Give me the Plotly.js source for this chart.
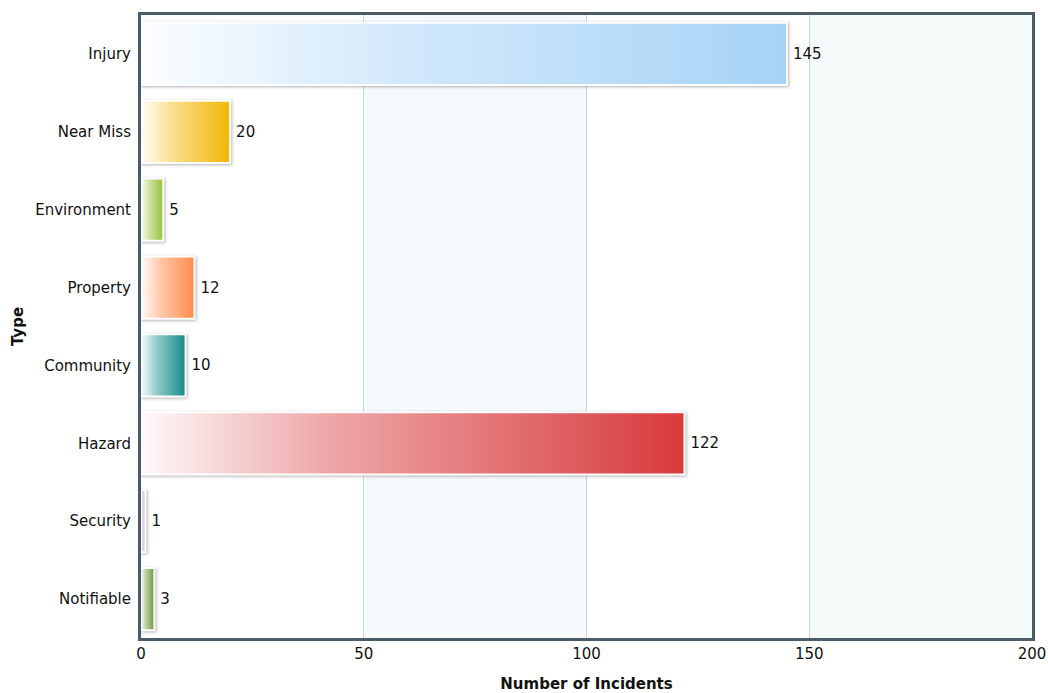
<!DOCTYPE html>
<html>
<head>
<meta charset="utf-8">
<script src="https://cdn.plot.ly/plotly-3.0.1.min.js"></script>
<style>
html,body{margin:0;padding:0;background:#fff;}
#chart{width:1048px;height:693px;}
</style>
</head>
<body>
<div id="chart"></div>
<script>
const categories = ["Injury", "Near Miss", "Environment", "Property", "Community", "Hazard", "Security", "Notifiable"];
const values = [145, 20, 5, 12, 10, 122, 1, 3];
const barColors = ["#a6d3f6", "#f2b705", "#98c23a", "#ff8a48", "#138a8a", "#d83a3c", "#d7a6d6", "#6b9a3c"];
const xTicks = [0, 50, 100, 150, 200];

const font = "DejaVu Sans, Verdana, sans-serif";

const trace = {
  type: "bar",
  orientation: "h",
  y: categories,
  x: values,
  text: values.map(v => "\u2009" + v),
  textposition: "outside",
  textfont: {family: font, size: 15, color: "#111"},
  cliponaxis: false,
  marker: {color: barColors, line: {color: "#ffffff", width: 2}},
  hoverinfo: "x+y"
};

const layout = {
  width: 1048, height: 693,
  margin: {l: 141, r: 16, t: 15, b: 55},
  paper_bgcolor: "#ffffff",
  plot_bgcolor: "#ffffff",
  showlegend: false,
  bargap: 0.2,
  font: {family: font, size: 15, color: "#111"},
  xaxis: {
    range: [0, 200],
    tickvals: xTicks,
    ticktext: xTicks.map(String),
    showgrid: true, gridcolor: "#bfdcdc", gridwidth: 1,
    zeroline: false,
    showline: true, mirror: true, linecolor: "#4a5b69", linewidth: 3,
    ticks: "", ticklen: 0,
    tickfont: {family: font, size: 15, color: "#111"},
    title: {text: "<b>Number of Incidents</b>", font: {family: font, size: 15, color: "#111"}, standoff: 18}
  },
  yaxis: {
    type: "category",
    autorange: "reversed",
    showgrid: false,
    zeroline: false,
    showline: true, mirror: true, linecolor: "#4a5b69", linewidth: 3,
    ticks: "",
    ticklabelstandoff: 4,
    tickfont: {family: font, size: 15, color: "#111"},
    title: {text: "<b>Type</b>", font: {family: font, size: 15, color: "#111"}, standoff: 8}
  },
  shapes: [
    {type: "rect", xref: "x", yref: "paper", x0: xTicks[1], x1: xTicks[2], y0: 0, y1: 1, fillcolor: "#f6fafc", line: {width: 0}, layer: "below"},
    {type: "rect", xref: "x", yref: "paper", x0: xTicks[3], x1: xTicks[4], y0: 0, y1: 1, fillcolor: "#f4f9fa", line: {width: 0}, layer: "below"}
  ]
};

function mix(hex, t) {
  const r = parseInt(hex.slice(1,3),16), g = parseInt(hex.slice(3,5),16), b = parseInt(hex.slice(5,7),16);
  const f = c => Math.round(255 + (c - 255) * t);
  return "rgb(" + f(r) + "," + f(g) + "," + f(b) + ")";
}

const gd = document.getElementById("chart");
Plotly.newPlot(gd, [trace], layout, {displayModeBar: false, staticPlot: true}).then(function () {
  const svg = gd.querySelector(".main-svg");
  const NS = "http://www.w3.org/2000/svg";
  let defs = svg.querySelector("defs");
  if (!defs) { defs = document.createElementNS(NS, "defs"); svg.insertBefore(defs, svg.firstChild); }
  barColors.forEach(function (c, i) {
    const lg = document.createElementNS(NS, "linearGradient");
    lg.setAttribute("id", "bargrad" + i);
    lg.setAttribute("x1", "0"); lg.setAttribute("y1", "0");
    lg.setAttribute("x2", "1"); lg.setAttribute("y2", "0");
    [[0, 0.03], [0.35, 0.45], [1, 1]].forEach(function (s) {
      const st = document.createElementNS(NS, "stop");
      st.setAttribute("offset", s[0]);
      st.setAttribute("stop-color", mix(c, s[1]));
      lg.appendChild(st);
    });
    defs.appendChild(lg);
  });
  const paths = gd.querySelectorAll(".barlayer .trace .point path");
  paths.forEach(function (p, i) {
    p.style.fill = "url(#bargrad" + i + ")";
    p.style.filter = "drop-shadow(1px 1px 1.5px rgba(0,0,0,0.3))";
  });
});
</script>
</body>
</html>
